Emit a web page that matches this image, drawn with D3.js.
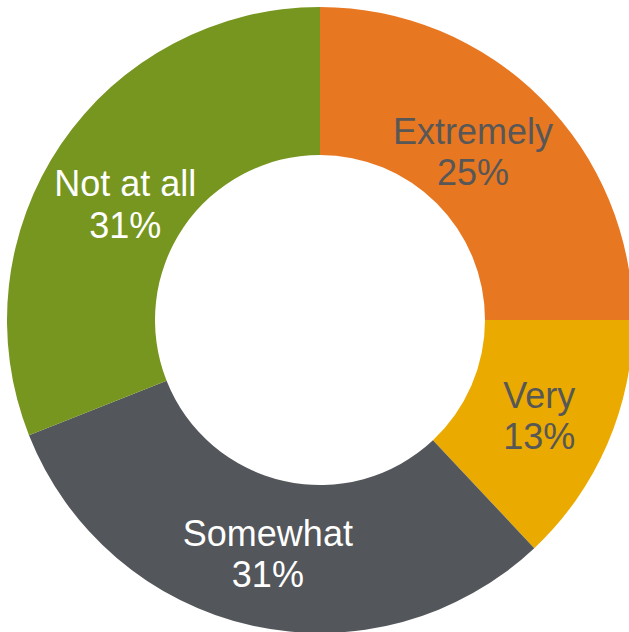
<!DOCTYPE html>
<html><head><meta charset="utf-8">
<script src="https://cdn.jsdelivr.net/npm/d3@7"></script>
<style>html,body{margin:0;padding:0;background:#fff;overflow:hidden}</style>
</head><body>
<svg id="chart" width="629" height="632"></svg>
<script>
const categories = ["Extremely", "Very", "Somewhat", "Not at all"];
const values = [25, 13, 31, 31];
const labels = ["25%", "13%", "31%", "31%"];

// layout / style (not data)
const colors = ["#E87722", "#EAAA00", "#53565A", "#76961F"];
const textColors = ["#575757", "#575757", "#FFFFFF", "#FFFFFF"];
const labelNudge = [[-16, 0], [0, 0], [0, 0], [3, 18]];

const svg = d3.select("#chart");
const cx = 320, cy = 320, outerR = 313, innerR = 165;
const g = svg.append("g").attr("transform", `translate(${cx},${cy})`);
const pie = d3.pie().sort(null).value(d => d);
const arcs = pie(values);
const arc = d3.arc().innerRadius(innerR).outerRadius(outerR);

g.selectAll("path").data(arcs).enter().append("path")
  .attr("d", arc).attr("fill", (d, i) => colors[i]);

const lab = g.selectAll("text").data(arcs).enter().append("text")
  .attr("transform", (d, i) => { const c = arc.centroid(d); return `translate(${c[0] + labelNudge[i][0]},${c[1] + labelNudge[i][1]})`; })
  .attr("text-anchor", "middle")
  .style("font-family", "'Liberation Sans', Arial, sans-serif")
  .style("font-size", "36px")
  .attr("fill", (d, i) => textColors[i]);
lab.append("tspan").attr("x", 0).attr("dy", "-0.2em").text((d, i) => categories[i]);
lab.append("tspan").attr("x", 0).attr("dy", "1.15em").text((d, i) => labels[i]);
</script>
</body></html>
